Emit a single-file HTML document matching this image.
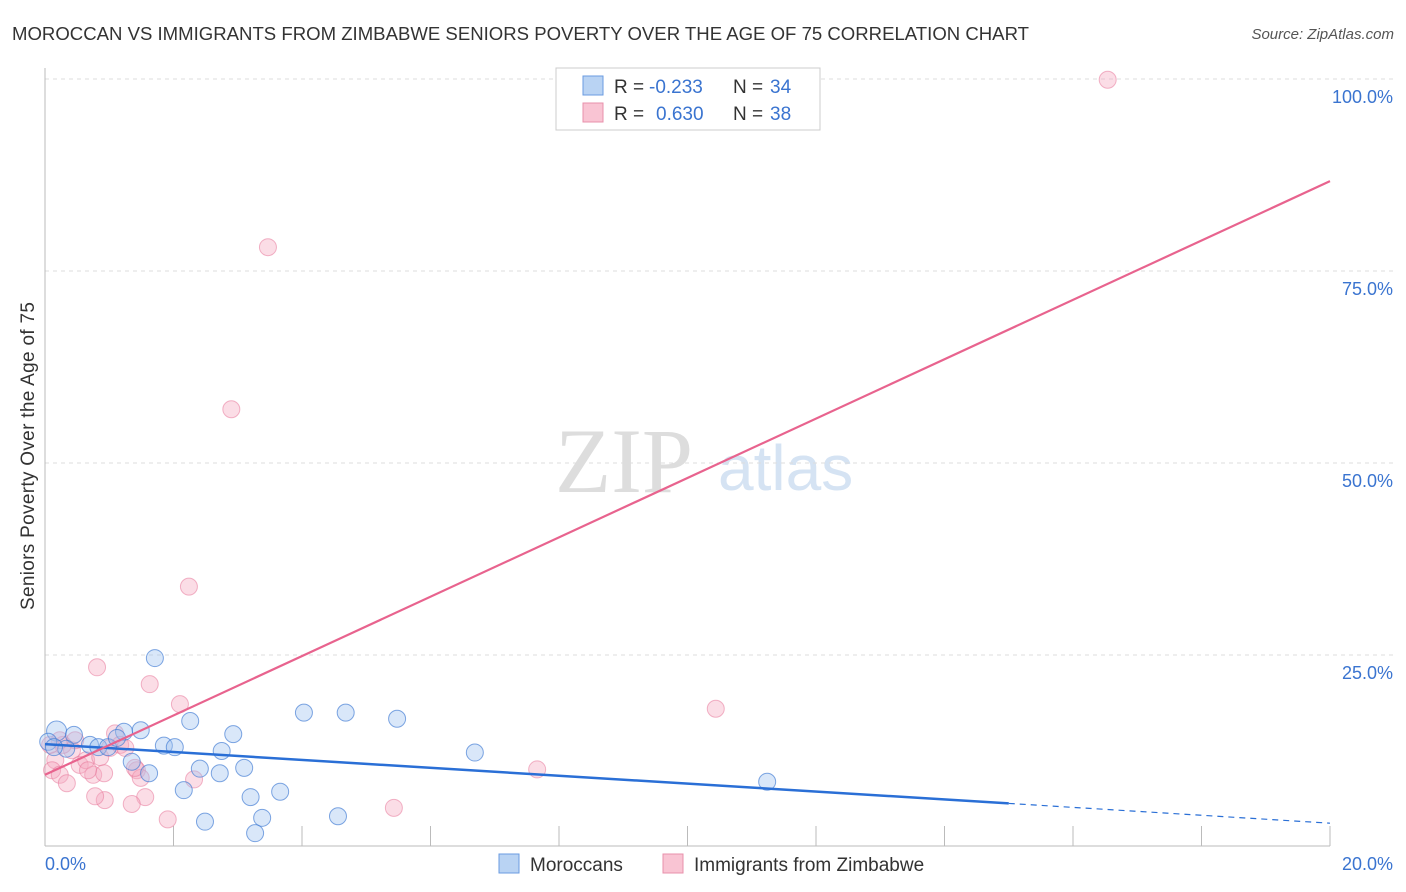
<!DOCTYPE html>
<html><head><meta charset="utf-8"><style>
body{margin:0;background:#fff;font-family:"Liberation Sans",sans-serif;}
svg{display:block}
</style></head><body>
<svg id="c" width="1406" height="892">
<text x="12" y="40" font-size="18" fill="#333" textLength="1017" lengthAdjust="spacingAndGlyphs">MOROCCAN VS IMMIGRANTS FROM ZIMBABWE SENIORS POVERTY OVER THE AGE OF 75 CORRELATION CHART</text>
<text x="1394" y="39" font-size="15" fill="#555" font-style="italic" text-anchor="end">Source: ZipAtlas.com</text>
<text x="34" y="456" font-size="19" fill="#333" text-anchor="middle" textLength="308" transform="rotate(-90 34 456)">Seniors Poverty Over the Age of 75</text>
<text x="555" y="492" font-size="92" fill="#ddd" font-family="Liberation Serif,serif">ZIP</text>
<text x="718" y="490" font-size="64" fill="#d5e3f3">atlas</text>
<g id="grid"></g><g id="pts"></g><g id="lines"></g>
<g>
<rect x="556" y="68" width="264" height="62" fill="#fff" stroke="#ccc"/>
<rect x="583" y="76" width="20" height="19" fill="#b9d3f3" stroke="#6a9be0"/>
<rect x="583" y="103" width="20" height="19" fill="#f9c4d3" stroke="#e890ab"/>
<text x="614" y="93" font-size="19" fill="#333">R =</text>
<text x="649" y="93" font-size="19" fill="#3a74d0">-0.233</text>
<text x="733" y="93" font-size="19" fill="#333">N =</text>
<text x="770" y="93" font-size="19" fill="#3a74d0">34</text>
<text x="614" y="120" font-size="19" fill="#333">R =</text>
<text x="656" y="120" font-size="19" fill="#3a74d0">0.630</text>
<text x="733" y="120" font-size="19" fill="#333">N =</text>
<text x="770" y="120" font-size="19" fill="#3a74d0">38</text>
</g>
<g>
<rect x="499" y="854" width="20" height="19" fill="#b9d3f3" stroke="#6a9be0"/>
<text x="530" y="871" font-size="19" fill="#333">Moroccans</text>
<rect x="663" y="854" width="20" height="19" fill="#f9c4d3" stroke="#e890ab"/>
<text x="694" y="871" font-size="19" fill="#333">Immigrants from Zimbabwe</text>
</g>
<text x="45" y="870" font-size="18" fill="#3a74d0">0.0%</text>
<text x="1393" y="870" font-size="18" fill="#3a74d0" text-anchor="end">20.0%</text>
</svg>
<script>
const yTicks=[100,75,50,25];
const blueX=[0.18,0.05,0.45,0.7,0.83,0.98,1.23,1.12,1.49,1.71,1.85,2.02,1.62,1.35,2.26,2.75,2.93,2.41,2.72,3.1,2.16,3.2,3.66,2.49,3.38,3.27,4.03,4.68,5.48,4.56,6.69,11.24,0.33,0.14];
const blueY=[15.1,13.7,14.6,13.3,13.0,13.0,15.0,14.2,15.2,24.6,13.2,13.0,9.6,11.1,16.4,12.5,14.7,10.2,9.6,10.3,7.4,6.5,7.2,3.3,3.8,1.8,17.5,17.5,16.7,4.0,12.3,8.5,12.8,13.0];
const pinkX=[16.54,3.47,2.9,2.24,0.81,1.63,2.1,10.44,7.66,5.43,1.91,0.16,0.11,0.23,0.34,0.42,0.54,0.64,0.75,0.86,1.01,1.09,1.17,1.25,1.43,1.49,1.56,1.35,0.93,0.78,0.92,2.32,0.28,0.23,0.08,0.47,0.67,1.4];
const pinkY=[99.9,78.1,57.0,33.9,23.4,21.2,18.6,18.0,10.1,5.1,3.6,11.3,10.0,9.4,8.3,12.6,10.7,11.3,9.4,11.7,12.9,14.8,13.3,12.9,10.0,9.0,6.5,5.6,6.1,6.6,9.6,8.8,13.3,13.9,13.3,13.9,10.0,10.3];
const blueLine=[13.4,3.1], pinkLine=[9.4,86.7];
const X=v=>45+v*64.25, Y=v=>847-v*7.68;
const NS='http://www.w3.org/2000/svg';
function mk(t,a,p){const e=document.createElementNS(NS,t);for(const k in a)e.setAttribute(k,a[k]);p.appendChild(e);return e;}
const g=document.getElementById('grid');
yTicks.forEach(t=>{const l=mk('line',{x1:45,x2:1393,y1:Y(t),y2:Y(t),stroke:'#ddd','stroke-dasharray':'4,4'},g);


const tx=mk('text',{x:1393,y:Y(t)+24,'font-size':18,fill:'#3a74d0','text-anchor':'end'},g);tx.textContent=t.toFixed(1)+'%';

});
mk('line',{x1:45,x2:45,y1:68,y2:846,stroke:'#bbb'},g);
mk('line',{x1:45,x2:1330,y1:846,y2:846,stroke:'#bbb'},g);
for(let i=1;i<=10;i++){const x=45+i*128.5;mk('line',{x1:x,x2:x,y1:826,y2:846,stroke:'#bbb'},g);}
const p=document.getElementById('pts');
pinkX.forEach((v,i)=>{const c=mk('circle',{cx:X(v),cy:Y(pinkY[i]),r:8.5,fill:'rgba(246,170,192,0.4)',stroke:'rgba(232,120,155,0.55)','stroke-width':1},p);

});
blueX.forEach((v,i)=>{const c=mk('circle',{cx:X(v),cy:Y(blueY[i]),r:i==0?10:8.5,fill:'rgba(160,196,240,0.4)',stroke:'rgba(60,120,210,0.65)','stroke-width':1},p);

});
const L=document.getElementById('lines');
const by=x=>blueLine[0]+(blueLine[1]-blueLine[0])*x/20, py=x=>pinkLine[0]+(pinkLine[1]-pinkLine[0])*x/20;
const bl=mk('line',{x1:X(0),y1:Y(by(0)),x2:X(15),y2:Y(by(15)),stroke:'#2a6fd6','stroke-width':2.5},L);


const bd=mk('line',{x1:X(15),y1:Y(by(15)),x2:X(20),y2:Y(by(20)),stroke:'#2a6fd6','stroke-width':1.2,'stroke-dasharray':'6,5'},L);


const pl=mk('line',{x1:X(0),y1:Y(py(0)),x2:X(20),y2:Y(py(20)),stroke:'#e8638e','stroke-width':2.2},L);


</script>
</body></html>
